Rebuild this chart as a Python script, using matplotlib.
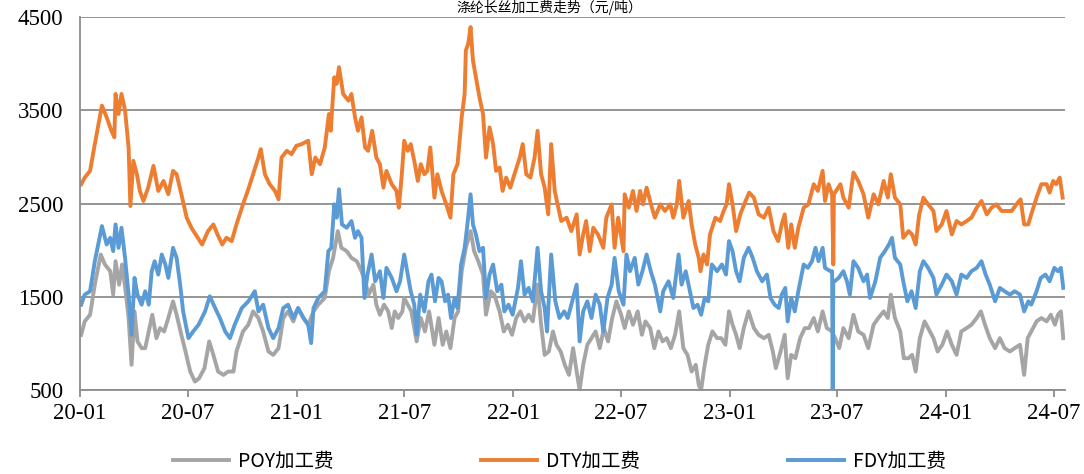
import pandas as pd
import matplotlib.pyplot as plt
import matplotlib.dates as mdates

# 读数：自 2020-01-01 起的天数, 加工费(元/吨)
dty_days = [2, 8, 17, 25, 37, 45, 53, 58, 60, 65, 70, 76, 82, 85, 90, 96, 101, 107, 115, 124, 132, 141, 149, 157, 163,
            171, 180, 188, 197, 206, 216, 225, 232, 240, 247, 256, 264, 275, 284, 292, 301, 305, 312, 320, 329, 335, 340,
            349, 357, 365, 374, 385, 391, 397, 405, 413, 420, 423, 429, 433, 437, 444, 453, 458, 464, 469, 475, 481, 486,
            493, 500, 506, 512, 517, 526, 534, 538, 543,
            547, 553, 558, 564, 570, 575, 581, 586, 591, 598, 603, 610, 618, 625, 630, 637, 644, 649, 651, 655, 659, 663,
            668, 674, 680, 685, 691, 697, 702, 708, 713, 719, 726, 733, 742, 747, 753, 760, 767, 772, 778, 784, 790, 795,
            801, 807, 812, 821, 829, 838, 843, 849, 854, 860, 866, 874, 883, 888, 897, 902, 908, 917, 919, 926, 933, 939,
            945, 950, 956, 965, 970, 979, 987, 996, 1001, 1007, 1011, 1018, 1027, 1032, 1038, 1044, 1047, 1052, 1058,
            1063, 1072, 1080, 1086, 1091, 1095, 1101, 1107,
            1114, 1123, 1129, 1137, 1145, 1154, 1162, 1170, 1178, 1184, 1189, 1195, 1200, 1206, 1212, 1221, 1229, 1238,
            1245, 1253, 1257, 1263, 1269, 1271, 1272, 1283, 1288, 1297, 1305, 1313, 1322, 1330, 1339, 1347, 1356, 1363,
            1368, 1375, 1384, 1389, 1398, 1404, 1410, 1416, 1423, 1431, 1440, 1445, 1454, 1462, 1471, 1479, 1487, 1496,
            1504, 1513, 1521, 1530, 1538, 1546, 1555, 1563, 1572, 1580, 1587, 1593, 1600, 1605, 1614, 1622, 1631, 1636,
            1642, 1647, 1653, 1658]
dty_vals = [2707, 2778, 2850, 3137, 3550, 3424, 3280, 3210, 3675, 3460, 3675, 3500, 3100, 2473, 2958, 2814, 2635, 2527,
            2670, 2904, 2635, 2742, 2600, 2850, 2814, 2600, 2348, 2240, 2150, 2060, 2204, 2276, 2168, 2060, 2132, 2097,
            2276, 2491, 2653, 2814, 2993, 3083, 2814, 2707, 2635, 2545, 2993, 3065, 3029, 3119, 3137, 3173, 2814, 2993,
            2922, 3101, 3460, 3280, 3854, 3783, 3962, 3675, 3603, 3675, 3424, 3280, 3424, 3101, 3065, 3280, 2993, 2922,
            2670, 2850, 2707, 2635, 2455, 2814,
            3173, 3065, 3137, 2958, 2742, 2922, 2814, 2850, 3101, 2563, 2814, 2635, 2491, 2348, 2814, 2922, 3424, 3675,
            4141, 4213, 4392, 4034, 3854, 3639, 3460, 2993, 3316, 3137, 2850, 2886, 2635, 2778, 2670, 2814, 2993, 3137,
            2814, 2778, 2993, 3280, 2814, 2670, 2384, 3137, 2635, 2455, 2312, 2348, 2204, 2384, 1953, 2168, 2312, 1989,
            2240, 2168, 2025, 2348, 2491, 2025, 2348, 1989, 2599, 2455, 2635, 2420, 2635, 2491, 2670, 2455, 2348, 2491,
            2420, 2491, 2348, 2491, 2742, 2348, 2527, 2276, 2060, 1917, 1774, 1953, 1846, 2168, 2348, 2312, 2420, 2491,
            2707, 2491, 2204,
            2384, 2527, 2617, 2563, 2384, 2348, 2455, 2204, 2097, 2276, 2384, 2025, 2276, 2025, 2240, 2455, 2491, 2707,
            2635, 2850, 2527, 2707, 2599, 1846, 2599, 2707, 2563, 2455, 2832, 2742, 2599, 2348, 2599, 2491, 2742, 2563,
            2814, 2563, 2491, 2132, 2204, 2168, 2060, 2384, 2563, 2491, 2420, 2204, 2276, 2420, 2168, 2312, 2276, 2312,
            2348, 2455, 2527, 2384, 2455, 2491, 2420, 2420, 2420, 2491, 2545, 2276, 2276, 2384, 2563, 2707, 2707, 2617,
            2742, 2707, 2778, 2563]

fdy_days = [2, 8, 17, 25, 37, 45, 51, 56, 60, 65, 70, 76, 82, 87, 92, 97, 104, 110, 116, 121, 126, 132, 138, 144, 149,
            157, 163, 169, 174, 183, 191, 200, 211, 219, 228, 236, 245, 253, 261, 273, 284, 295, 301, 309, 318, 326, 335,
            343, 351, 360, 368, 377, 385, 390, 394, 402, 413, 419, 424, 429, 433, 437, 442, 450, 458, 464, 469, 475, 480,
            485, 492, 498, 506, 512, 517, 526, 534, 540,
            547, 553, 558, 564, 568, 574, 581, 588, 593, 599, 605, 610, 616, 621, 626, 632, 637, 643, 649, 653, 659, 663,
            668, 674, 680, 685, 691, 697, 704, 711, 716, 723, 730, 739, 744, 750, 757, 764, 772, 778, 784, 788, 795, 802,
            809, 817, 823, 832, 838, 843, 849, 856, 863, 870, 877, 883, 890, 897, 902, 909, 917, 922, 928, 936, 942, 949,
            956, 963, 970, 979, 984, 993, 1001, 1010, 1015, 1022, 1029, 1035, 1042, 1048, 1054, 1060, 1066, 1075, 1083,
            1090, 1095, 1101, 1107,
            1113, 1120, 1128, 1135, 1142, 1151, 1159, 1165, 1172, 1179, 1184, 1190, 1194, 1200, 1206, 1212, 1221, 1228,
            1235, 1241, 1246, 1253, 1257, 1266, 1269, 1270, 1271, 1273, 1280, 1288, 1294, 1299, 1305, 1313, 1322, 1328,
            1333, 1342, 1350, 1358, 1365, 1370, 1375, 1384, 1389, 1396, 1403, 1410, 1417, 1423, 1431, 1440, 1445, 1454,
            1462, 1471, 1479, 1487, 1496, 1504, 1513, 1521, 1528, 1535, 1544, 1552, 1560, 1569, 1577, 1586, 1593, 1600,
            1605, 1614, 1621, 1629, 1636, 1644, 1650, 1655, 1659]
fdy_vals = [1415, 1523, 1559, 1881, 2258, 2061, 2132, 1989, 2276, 2025, 2240, 1917, 1523, 1092, 1702, 1523, 1415, 1559,
            1415, 1774, 1881, 1738, 1953, 1846, 1702, 2025, 1917, 1630, 1343, 1056, 1128, 1200, 1343, 1505, 1379, 1272,
            1128, 1056, 1200, 1379, 1451, 1559, 1343, 1415, 1164, 1056, 1164, 1379, 1415, 1272, 1379, 1272, 1200, 1003,
            1379, 1487, 1559, 1989, 2025, 2491, 2348, 2653, 2276, 2240, 2312, 2132, 2204, 2132, 1487, 1738, 1953, 1666,
            1774, 1487, 1810, 1702, 1559, 1666,
            1953, 1738, 1559, 1415, 1092, 1523, 1343, 1666, 1738, 1451, 1702, 1666, 1451, 1523, 1272, 1487, 1379, 1846,
            2025, 2240, 2599, 2276, 2168, 1989, 2025, 1487, 1738, 1846, 1559, 1630, 1343, 1415, 1307, 1595, 1881, 1523,
            1595, 1451, 2025, 1559, 1379, 1128, 1953, 1451, 1272, 1343, 1272, 1487, 1630, 1021, 1343, 1451, 1272, 1523,
            1415, 1128, 1487, 1630, 1917, 1559, 1415, 1953, 1774, 1917, 1630, 1774, 1953, 1774, 1630, 1343, 1559, 1666,
            1487, 1953, 1630, 1774, 1559, 1379, 1415, 1307, 1487, 1451, 1846, 1774, 1846, 1738, 2097, 1989, 1774,
            1666, 1917, 2025, 1917, 1774, 1666, 1738, 1487, 1415, 1379, 1523, 1595, 1236, 1487, 1343, 1559, 1846, 1810,
            1881, 2025, 1881, 2025, 1810, 1774, 1774, 500, 1666, 1666, 1702, 1774, 1666, 1523, 1881, 1810, 1666, 1738,
            1487, 1666, 1917, 1989, 2061, 2132, 1917, 1846, 1666, 1451, 1559, 1379, 1774, 1881, 1810, 1702, 1523, 1630,
            1738, 1666, 1523, 1738, 1702, 1774, 1810, 1881, 1738, 1630, 1451, 1595, 1559, 1523, 1559, 1523, 1343, 1451,
            1415, 1559, 1702, 1738, 1666, 1810, 1774, 1810, 1595]

poy_days = [2, 8, 17, 25, 35, 42, 51, 56, 60, 66, 71, 77, 82, 87, 92, 97, 104, 110, 116, 122, 129, 135, 142, 149, 157,
            163, 171, 178, 186, 194, 201, 210, 218, 225, 233, 242, 250, 259, 264, 275, 284, 292, 301, 309, 318, 326, 335,
            343, 351, 360, 368, 377, 385, 394, 402, 413, 420, 427, 435, 441, 450, 458, 467, 475, 481, 487, 495, 500, 506,
            513, 520, 526, 531, 537, 544,
            547, 553, 559, 568, 575, 582, 589, 598, 605, 612, 618, 625, 632, 638, 644, 651, 659, 665, 672, 680, 685, 693,
            699, 708, 715, 722, 729, 736, 743, 750, 757, 764, 772, 778, 784, 791, 798, 804, 811, 818, 825, 832, 838, 843,
            849, 856, 863, 870, 877, 884, 891, 898, 905, 913, 919, 926, 933, 941, 948, 954, 962, 969, 976, 983, 990, 997,
            1004, 1011, 1018, 1025, 1032, 1039, 1044, 1048, 1054, 1060, 1067, 1075, 1082, 1089, 1095, 1101, 1107,
            1113, 1120, 1128, 1137, 1145, 1154, 1162, 1169, 1174, 1182, 1189, 1194, 1200, 1207, 1215, 1223, 1230, 1238,
            1245, 1253, 1260, 1269, 1274, 1281, 1288, 1297, 1305, 1313, 1322, 1330, 1339, 1347, 1356, 1363, 1368, 1375,
            1384, 1390, 1398, 1404, 1410, 1417, 1425, 1431, 1440, 1447, 1455, 1463, 1471, 1479, 1487, 1496, 1504, 1513,
            1520, 1527, 1535, 1544, 1552, 1560, 1569, 1577, 1586, 1593, 1599, 1605, 1614, 1622, 1631, 1638, 1645, 1650,
            1655, 1659]
poy_vals = [1092, 1236, 1307, 1630, 1953, 1846, 1774, 1523, 1881, 1630, 1846, 1559, 1272, 770, 1343, 1021, 949, 949,
            1128, 1307, 1056, 1164, 1128, 1272, 1451, 1307, 1092, 913, 698, 590, 626, 734, 1021, 877, 698, 662, 698, 698,
            913, 1128, 1200, 1343, 1272, 1128, 913, 877, 949, 1272, 1343, 1236, 1379, 1272, 1200, 1343, 1415, 1487, 1774,
            1917, 2204, 2025, 1989, 1917, 1881, 1774, 1666, 1523, 1630, 1415, 1307, 1415, 1343, 1164, 1343, 1272, 1343,
            1487, 1415, 1343, 1021, 1272, 1128, 1343, 985, 1272, 985, 1128, 949, 1272, 1343, 1774, 2025, 2204, 1989,
            1881, 1738, 1307, 1559, 1523, 1343, 1128, 1200, 1092, 1272, 1343, 1236, 1307, 1236, 1630, 1200, 877, 913,
            1128, 985, 913, 770, 662, 949, 698, 500, 770, 985, 1056, 1128, 949, 1164, 1021, 1272, 1451, 1307, 1164, 1343,
            1200, 1343, 1092, 1236, 1164, 949, 1128, 1021, 1056, 949, 1092, 1343, 949, 877, 698, 770, 554, 500, 770, 985,
            1128, 1056, 1056, 985, 1343, 1200, 1092,
            949, 1164, 1343, 1164, 1092, 1056, 1092, 913, 734, 913, 1092, 626, 877, 841, 1056, 1164, 1164, 1272, 1128,
            1343, 1164, 1128, 1056, 949, 1164, 1056, 1307, 1128, 1092, 949, 1200, 1272, 1343, 1272, 1523, 1272, 1128,
            841, 841, 877, 698, 1056, 1236, 1164, 1056, 913, 985, 1128, 985, 877, 1128, 1164, 1200, 1272, 1343, 1200,
            1056, 949, 1056, 949, 913, 949, 985, 662, 1056, 1128, 1236, 1272, 1236, 1307, 1200, 1307, 1343, 1056]

start = pd.Timestamp("2020-01-01")


def to_dates(days):
    return start + pd.to_timedelta(days, unit="D")


fig = plt.figure(figsize=(10.84, 4.74), dpi=100)
ax = fig.add_axes([0.0738, 0.1772, 0.9087, 0.7869])

ax.plot(to_dates(poy_days), poy_vals, color="#A5A5A5", lw=2.8, label="POY加工费")
ax.plot(to_dates(dty_days), dty_vals, color="#ED7D31", lw=2.8, label="DTY加工费")
ax.plot(to_dates(fdy_days), fdy_vals, color="#5B9BD5", lw=2.8, label="FDY加工费")

ax.set_ylim(500, 4500)
ax.set_yticks([500, 1500, 2500, 3500, 4500])
ax.set_xlim(start, start + pd.Timedelta(days=1662))
ticks = pd.date_range("2020-01-01", "2024-07-01", freq="6MS")
ax.set_xticks(ticks)
ax.xaxis.set_major_formatter(mdates.DateFormatter("%y-%m"))

ax.grid(axis="y", color="#8C8C8C", lw=1.3)
ax.set_axisbelow(True)
for s in ["top", "right"]:
    ax.spines[s].set_visible(False)
for s in ["left", "bottom"]:
    ax.spines[s].set_color("#8C8C8C")
    ax.spines[s].set_linewidth(1.3)
ax.tick_params(axis="y", length=0, pad=12)
ax.tick_params(axis="x", length=5, width=1.3, color="#8C8C8C", pad=4)
for lab in ax.get_xticklabels() + ax.get_yticklabels():
    lab.set_family("Liberation Serif")
    lab.set_fontsize(16.5)

fig.legend(loc="center", bbox_to_anchor=(0.516, 0.027), ncol=3, frameon=False,
           prop={"family": ["Noto Sans CJK SC", "DejaVu Sans"], "size": 14},
           handlelength=2.9, handletextpad=0.45, columnspacing=7.6)

# 标题（原图顶部被裁切，这里缩小后完整保留）
fig.text(0.507, 0.999, "涤纶长丝加工费走势（元/吨）", ha="center", va="top",
         family=["Noto Sans CJK SC", "DejaVu Sans"], fontsize=10)

fig.savefig("out.png", dpi=100)
